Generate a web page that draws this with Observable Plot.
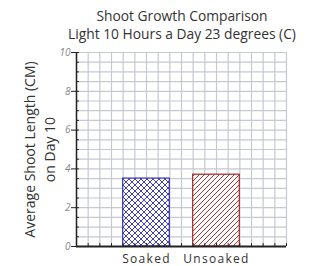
<!DOCTYPE html>
<html>
<head>
<meta charset="utf-8">
<script src="https://cdn.jsdelivr.net/npm/d3@7"></script>
<script src="https://cdn.jsdelivr.net/npm/@observablehq/plot@0.6"></script>
<style>
  body { margin: 0; background: #fff; font-family: "Open Sans", sans-serif; }
  #title { width: 311px; box-sizing: border-box; padding: 7px 0 0 53px; height: 44px;
           text-align: center; font-size: 13.8px; line-height: 18px; color: #333; white-space: nowrap; }
</style>
</head>
<body>
<div id="title"><div>Shoot Growth Comparison</div><div>Light 10 Hours a Day 23 degrees (C)</div></div>
<div id="chart"></div>
<script>
const categories = ["Soaked", "Unsoaked"];
const values = [3.5, 3.7];
const patterns = ["url(#crosshatch)", "url(#hatch)"];
const colors = ["#4040b0", "#a83434"];
const yTicks = [0, 2, 4, 6, 8, 10];
const yTitle = "Average Shoot Length (CM)\non Day 10";

const data = categories.map((c, i) => ({cat: c, value: values[i], fill: patterns[i], stroke: colors[i]}));

// 18 grid columns, bars span 4 columns with gaps
const cols = 18;
const band = d3.scaleBand().domain(categories).range([0, cols]).paddingInner(1/3).paddingOuter(2/3);
const colLines = d3.range(0, cols + 1);
const rowLines = d3.range(0, 10.01, 0.5);

const defs = () => {
  const g = d3.create("svg:defs");
  const p1 = g.append("pattern").attr("id", "crosshatch").attr("patternUnits", "userSpaceOnUse")
    .attr("width", 6).attr("height", 6);
  p1.append("rect").attr("width", 6).attr("height", 6).attr("fill", "white");
  p1.append("path").attr("d", "M-1,1 l2,-2 M0,6 l6,-6 M5,7 l2,-2 M-1,5 l2,2 M0,0 l6,6 M5,-1 l2,2")
    .attr("stroke", colors[0]).attr("stroke-width", 1);
  const p2 = g.append("pattern").attr("id", "hatch").attr("patternUnits", "userSpaceOnUse")
    .attr("width", 5).attr("height", 5);
  p2.append("rect").attr("width", 5).attr("height", 5).attr("fill", "white");
  p2.append("path").attr("d", "M-1,1 l2,-2 M0,5 l5,-5 M4,6 l2,-2")
    .attr("stroke", colors[1]).attr("stroke-width", 1);
  return g.node();
};

const chart = Plot.plot({
  width: 311,
  height: 222,
  marginTop: 8,
  marginBottom: 20,
  marginLeft: 76,
  marginRight: 25,
  style: {fontFamily: "Open Sans, sans-serif", background: "white", overflow: "visible"},
  x: {domain: [0, cols], axis: null},
  y: {domain: [0, 10], axis: null},
  marks: [
    defs,
    Plot.ruleX(colLines, {x: d => d, y1: 0, y2: 10, stroke: "#c6c8d2", strokeWidth: 1.2}),
    Plot.ruleY(rowLines, {y: d => d, x1: 0, x2: cols, stroke: "#c6c8d2", strokeWidth: 1.2}),
    Plot.rectY(data, {
      x1: d => band(d.cat), x2: d => band(d.cat) + band.bandwidth(),
      y1: 0, y2: "value", fill: d => d.fill, stroke: d => d.stroke, strokeWidth: 1.3
    }),
    Plot.ruleY(rowLines, {y: d => d, x1: 0, x2: 0.25, stroke: "#222", strokeWidth: 1}),
    Plot.ruleX(colLines, {x: d => d, y1: 0, y2: 0.15, stroke: "#222", strokeWidth: 1}),
    Plot.ruleX([0], {y1: 0, y2: 10, stroke: "#222", strokeWidth: 1.5}),
    Plot.ruleY([0], {x1: 0, x2: cols, stroke: "#222", strokeWidth: 2.2}),
    Plot.axisY(yTicks, {anchor: "left", tickSize: 5, tickPadding: 1, stroke: "#222", label: null,
      fontSize: 10, fontStyle: "italic", fill: "#888"}),
    Plot.text(categories, {x: d => band(d) + band.bandwidth() / 2, y: 0, dy: 12.5,
      text: d => d, fontSize: 12, fill: "#333", textAnchor: "middle", lineAnchor: "middle"}),
    Plot.text([yTitle], {frameAnchor: "left", text: d => d, rotate: -90, dx: -38,
      fontSize: 14, lineHeight: 1.45, fill: "#333", textAnchor: "middle", lineAnchor: "middle"})
  ]
});
d3.select(chart).selectAll("text")
  .filter(function() { return categories.includes(this.textContent); })
  .style("letter-spacing", "1.3px");
document.getElementById("chart").append(chart);
</script>
</body>
</html>
